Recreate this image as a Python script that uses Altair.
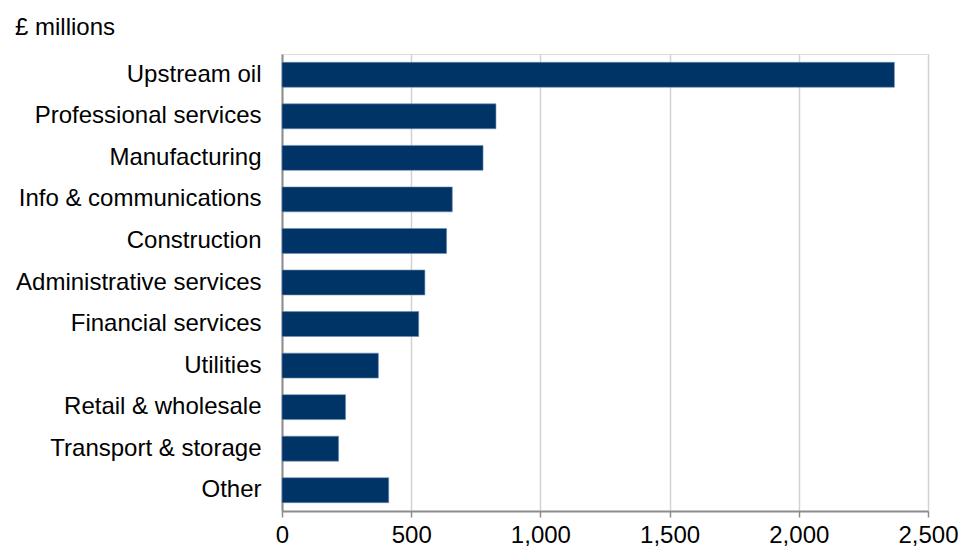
import altair as alt
import pandas as pd

categories = [
    "Upstream oil", "Professional services", "Manufacturing", "Info & communications",
    "Construction", "Administrative services", "Financial services", "Utilities",
    "Retail & wholesale", "Transport & storage", "Other",
]
values = [2370, 828, 778, 659, 637, 553, 529, 373, 246, 219, 413]
x_ticks = [0, 500, 1000, 1500, 2000, 2500]

df = pd.DataFrame({"category": categories, "value": values})

FONT = "Liberation Sans"
FS = 24

chart = alt.Chart(df).mark_bar(
    color="#003366", stroke="#6f8db5", strokeWidth=0.6
).encode(
    y=alt.Y("category:N", sort=categories, title=None,
            scale=alt.Scale(paddingInner=0.4, paddingOuter=0.2),
            axis=alt.Axis(ticks=False, labelPadding=21, labelFontSize=FS, labelFont=FONT,
                          labelColor="#000000", domainColor="#8c8c8c", domainWidth=2,
                          labelLimit=400)),
    x=alt.X("value:Q", title=None,
            scale=alt.Scale(domain=[0, 2500], nice=False),
            axis=alt.Axis(values=x_ticks, format=",d", labelFontSize=FS, labelFont=FONT,
                          labelColor="#000000", domainColor="#8c8c8c", domainWidth=2,
                          tickColor="#8c8c8c", tickWidth=1.5, tickSize=6, labelPadding=6,
                          gridColor="#d2d2d2", gridWidth=1.5, labelFlush=False)),
).properties(
    width=646, height=457,
    title=alt.TitleParams("£ millions", anchor="start", frame="group", dx=-267, dy=27, offset=22,
                          baseline="alphabetic", fontSize=FS, font=FONT,
                          fontWeight="normal", color="#000000"),
    autosize=alt.AutoSizeParams(type="none"),
    padding={"left": 282, "top": 54, "right": 41, "bottom": 41},
).configure_view(stroke=None).configure(background="#ffffff")

chart.save("out.html", embed_options={"renderer": "svg", "actions": False})
